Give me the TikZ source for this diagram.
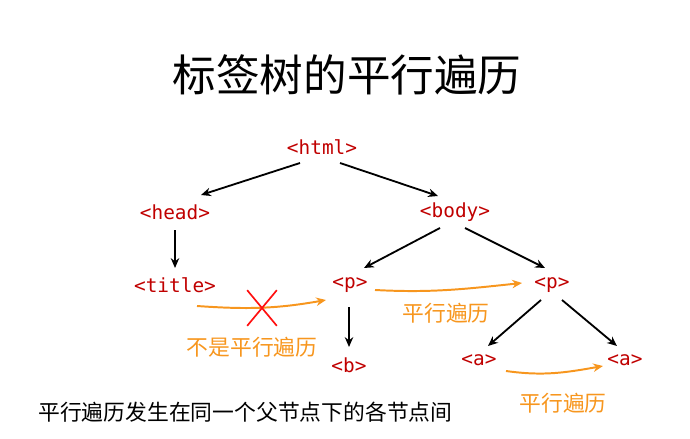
\documentclass[tikz,border=0pt]{standalone}
\usepackage{fontspec}
\usepackage{xcolor}
\usepackage{tikz}
\usetikzlibrary{arrows.meta, calc, shapes.misc}
\setmainfont{Liberation Sans}
\newfontfamily\cjk{Noto Sans CJK SC}
\newfontfamily\tagfont{DejaVu Sans Mono}
\definecolor{tagred}{HTML}{C00000}
\definecolor{travorange}{HTML}{F7961E}
\definecolor{crossred}{HTML}{FF1010}

\begin{document}
\begin{tikzpicture}[
    x=0.025cm, y=-0.025cm,
    tag/.style={text=tagred, font=\tagfont\fontsize{13.8}{16}\selectfont, inner sep=1pt},
    arrow/.style={-{Stealth[length=7pt,width=6pt]}, line width=1.3pt, black},
    trav/.style={-{Stealth[length=7pt,width=6pt]}, line width=1.4pt, travorange},
    travlabel/.style={text=travorange, font=\cjk\fontsize{15.5}{18}\selectfont},
    heading/.style={font=\cjk\fontsize{31}{36}\selectfont}
  ]
    \useasboundingbox (0,0) rectangle (690,439);

    \node[heading] (title) at (347,75) {标签树的平行遍历};

    % tag tree
    \node[tag] (html) at (322,147) {<html>};
    \node[tag] (head) at (175,212) {<head>};
    \node[tag] (body) at (455,212) {<body>};
    \node[tag] (ttl) at (175,285) {<title>};
    \node[tag] (pl) at (350,285) {<p>};
    \node[tag] (pr) at (552,285) {<p>};
    \node[tag] (b) at (349,365) {<b>};
    \node[tag] (al) at (479,360) {<a>};
    \node[tag] (ar) at (625,360) {<a>};

    \draw[arrow] ($(html)+(-22,16)$) -- ($(head)+(26,-17)$);
    \draw[arrow] ($(html)+(18,16)$) -- ($(body)+(-17,-16)$);
    \draw[arrow] ($(head)+(0,18)$) -- ($(ttl)+(0,-17)$);
    \draw[arrow] ($(body)+(-15,16)$) -- ($(pl)+(14,-17)$);
    \draw[arrow] ($(body)+(10,16)$) -- ($(pr)+(-7,-17)$);
    \draw[arrow] ($(pl)+(-1,22)$) -- ($(b)+(0,-18)$);
    \draw[arrow] ($(pr)+(-11,15)$) -- ($(al)+(9,-14)$);
    \draw[arrow] ($(pr)+(10,15)$) -- ($(ar)+(-8,-14)$);

    % traversals
    \draw[trav] ($(ttl)+(22,21)$) to[out=-4, in=190] ($(pl)+(-24,15)$);
    \node[cross out, draw=crossred, line width=1.2pt, minimum width=0.7cm,
          minimum height=0.85cm] (nope) at (262,308) {};
    \node[travlabel] (notpar) at (252,347) {不是平行遍历};

    \draw[trav] ($(pl)+(25,5)$) to[out=-3, in=186] ($(pr)+(-30,-2)$);
    \node[travlabel] (par1) at (446,313) {平行遍历};

    \draw[trav] ($(al)+(27,11)$) to[out=-8, in=190] ($(ar)+(-22,6)$);
    \node[travlabel] (par2) at (563,403) {平行遍历};

    % note
    \node[anchor=west, font=\cjk\fontsize{15.5}{18}\selectfont, inner sep=0pt]
      (note) at (38,412) {平行遍历发生在同一个父节点下的各节点间};
  \end{tikzpicture}
\end{document}
